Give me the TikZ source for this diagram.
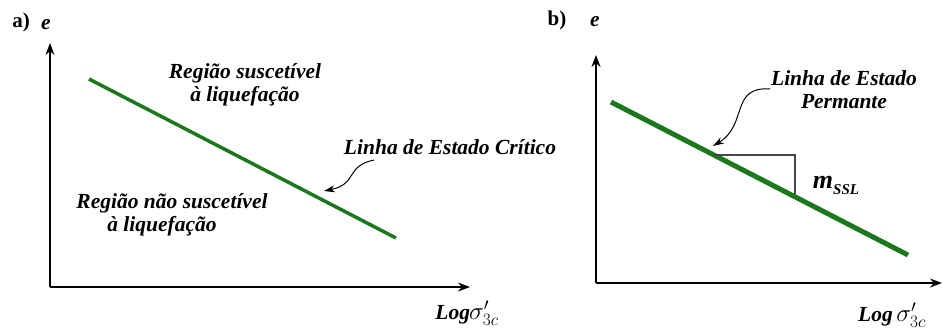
\documentclass[tikz,border=0pt]{standalone}
\usepackage{amsmath,amssymb}
\usepackage{fontspec}
\setmainfont{Liberation Serif}
\usepackage{tikz}
\usetikzlibrary{arrows.meta, positioning, calc}
\usepackage{xcolor}
\definecolor{slgreen}{RGB}{28,120,28}
\definecolor{tri}{RGB}{70,70,70}

\begin{document}
\begin{tikzpicture}[x=1pt, y=-1pt,
    lbl/.style={font=\fontsize{21.5}{23}\selectfont\bfseries\itshape, align=center, inner sep=0pt},
    axis/.style={-{Stealth[length=12pt, width=9pt]}, line width=1.4pt},
    curly/.style={-{Stealth[length=11pt, width=7pt]}, line width=1pt}]
  \useasboundingbox (0,0) rectangle (943,333);
  % a) critical state line
  \node[lbl, font=\fontsize{21}{23}\selectfont\bfseries] (la) at (21,22) {a)};
  \node[lbl] (ea) at (46,25) {e};
  \coordinate (oa) at (50,287);
  \draw[axis] (oa) -- (50,43);
  \draw[axis] (oa) -- (470,287);
  \node[lbl] (xa) at (467,313) {Log\kern-1pt{\fontsize{25}{27}\selectfont$\sigma'_{3c}$}};
  \coordinate (csa) at (89,79);
  \coordinate (csb) at (396,238);
  \draw[slgreen, line width=3.5pt] (csa) -- (csb);
  \node[lbl] (up) at (245,85) {Região suscetível\\à liquefação};
  \node[lbl] (down) at (172,215) {Região não suscetível\\\hspace*{-20pt}à liquefação};
  \node[lbl] (csl) at (450,147) {Linha de Estado Crítico};
  \coordinate (csp) at (324,191);
  \draw[curly] (374,160) .. controls (345,166) and (358,184) .. (csp);
  % b) steady state line
  \node[lbl, font=\fontsize{21}{23}\selectfont\bfseries] (lb) at (557,20) {b)};
  \node[lbl] (eb) at (595,22) {e};
  \coordinate (ob) at (596,283);
  \draw[axis] (ob) -- (596,55);
  \draw[axis] (ob) -- (942,283);
  \node[lbl] (xb) at (892,315) {Log\,{\fontsize{25}{27}\selectfont$\sigma'_{3c}$}};
  \coordinate (ssa) at (611,102);
  \coordinate (ssb) at (908,255);
  \draw[slgreen, line width=5pt] (ssa) -- (ssb);
  \coordinate (t1) at (713,155);
  \coordinate (t2) at (795,155);
  \coordinate (t3) at (795,194);
  \draw[tri, line width=1.2pt] (t1) -- (t2) -- (t3);
  \node[lbl, font=\fontsize{26}{28}\selectfont\bfseries\itshape] (m) at (836,185) {m\raisebox{-6pt}{\fontsize{15}{16}\selectfont SSL}};
  \node[lbl] (ssl) at (844,90) {Linha de Estado\\Permante};
  \coordinate (ssp) at (713,146);
  \draw[curly] (770,89) .. controls (730,86) and (748,125) .. (ssp);
\end{tikzpicture}
\end{document}
